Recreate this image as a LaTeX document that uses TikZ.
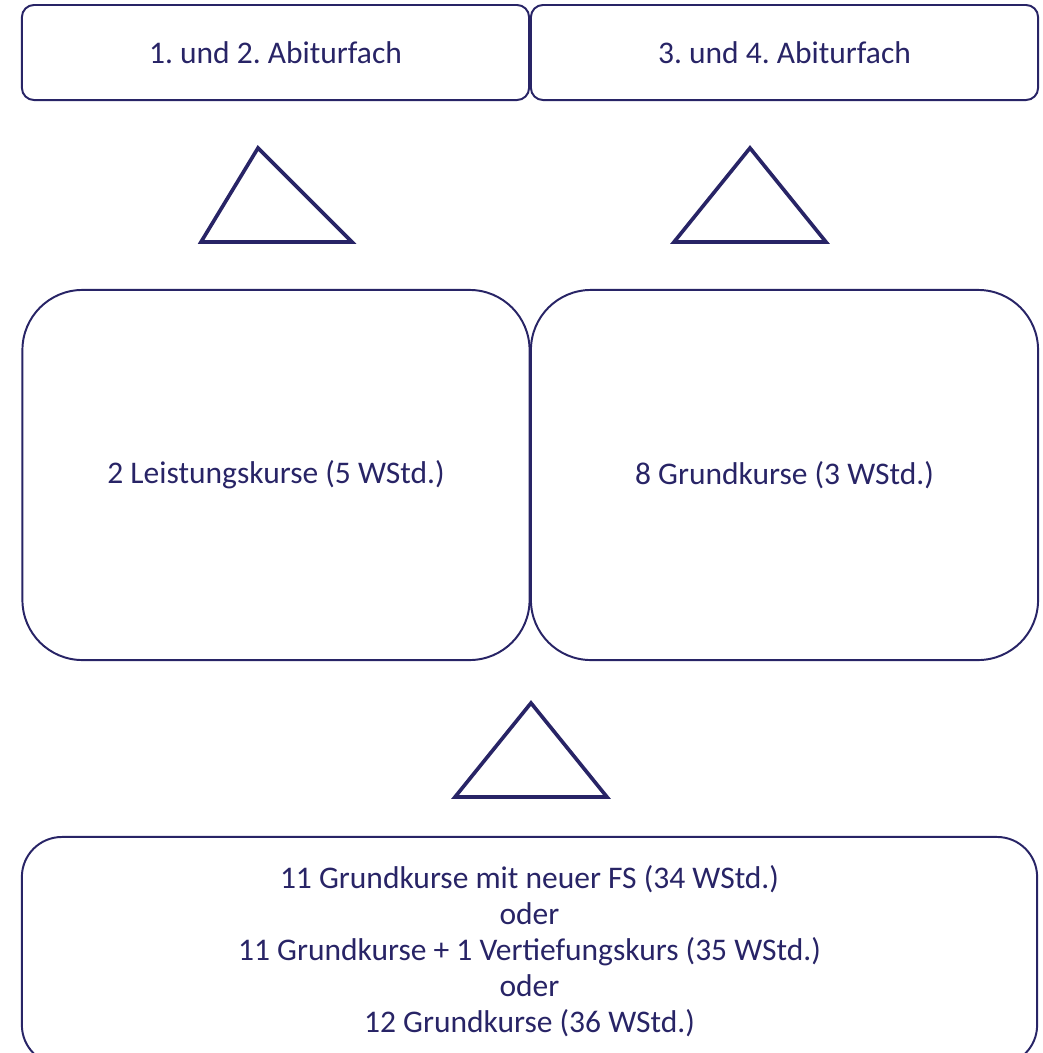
\documentclass[tikz,border=0pt]{standalone}
\usepackage{fontspec}
\setmainfont{Carlito}
\usepackage{xcolor}
\usepackage{tikz}
\definecolor{abinavy}{RGB}{40, 36, 102}
\usetikzlibrary{positioning}
\frenchspacing

\begin{document}
\begin{tikzpicture}[
    x=0.025cm, y=-0.025cm,
    fach/.style={rectangle, draw=abinavy, line width=1.4pt, rounded corners=0.3cm, minimum width=12.675cm, minimum height=2.375cm, inner sep=0pt, text=abinavy, font=\fontsize{22.4}{25.6}\selectfont, align=center},
    kurs/.style={fach, rounded corners=1.5cm, minimum height=9.25cm},
    pfeil/.style={draw=abinavy, line width=2.6pt}
]
    \useasboundingbox (0, 0) rectangle (1043, 1053);
    \clip (0, 0) rectangle (1043, 1053);

    % Abiturfaecher
    \node[fach] (abi12) at (275.5, 52.5) {1. und 2. Abiturfach};
    \node[fach] (abi34) at (784.5, 52.5) {3. und 4. Abiturfach};

    % Triangles
    \draw[pfeil] (258, 148) -- (352, 242) -- (201, 242) -- cycle;
    \draw[pfeil] (750, 148) -- (826, 242) -- (674, 242) -- cycle;

    % Kurse
    \node[kurs] (lk) at (276, 475) {2 Leistungskurse (5 WStd.)};
    \node[kurs] (gk) at (784.5, 475) {8 Grundkurse (3 WStd.)};

    \draw[pfeil] (531, 703) -- (607, 797) -- (455, 797) -- cycle;

    % Grundkurse unten
    \node[fach, rounded corners=1cm, minimum width=25.375cm, minimum height=5.7cm] (rest) at (529.5, 951) {11 Grundkurse mit neuer FS (34 WStd.)\\oder\\11 Grundkurse + 1 Vertiefungskurs (35 WStd.)\\oder\\12 Grundkurse (36 WStd.)};
\end{tikzpicture}
\end{document}
